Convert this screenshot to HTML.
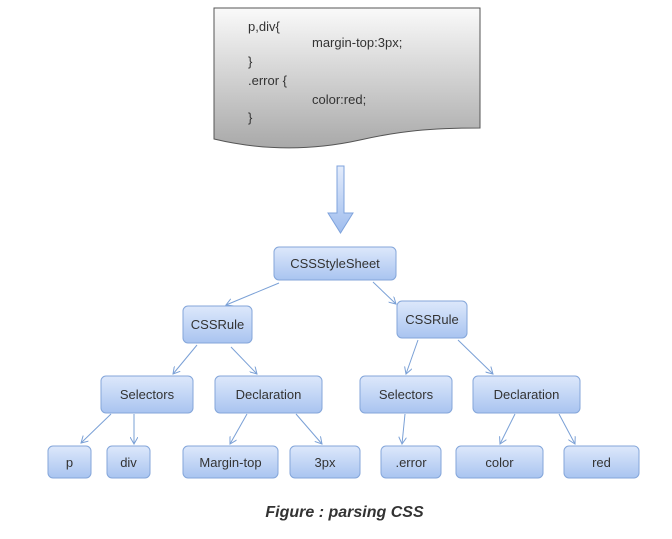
<!DOCTYPE html>
<html><head><meta charset="utf-8"><style>
html,body{margin:0;padding:0;background:#fff;}
svg{display:block;}
text{font-family:"Liberation Sans",sans-serif;}
</style></head><body>
<svg width="672" height="539" viewBox="0 0 672 539" xmlns="http://www.w3.org/2000/svg">
<defs>
<linearGradient id="doc" x1="0" y1="0" x2="0" y2="1">
<stop offset="0" stop-color="#fafafa"/><stop offset="1" stop-color="#a9a9a9"/>
</linearGradient>
<linearGradient id="box" x1="0" y1="0" x2="0" y2="1">
<stop offset="0" stop-color="#dde8fb"/><stop offset="1" stop-color="#a9c4f0"/>
</linearGradient>
<linearGradient id="arr" x1="0" y1="0" x2="0" y2="1">
<stop offset="0" stop-color="#e4ecfb"/><stop offset="1" stop-color="#9fbdee"/>
</linearGradient>
<marker id="m" markerWidth="8" markerHeight="8" refX="7" refY="4" orient="auto" markerUnits="userSpaceOnUse">
<path d="M0,0 L7,4 L0,8" fill="none" stroke="#7aa0d6" stroke-width="1"/>
</marker>
</defs>
<path d="M214,8 H480 V128 C430,128 400,131 360,140 C310,151 260,150 214,139 Z" fill="url(#doc)" stroke="#555" stroke-width="1"/>
<g font-size="13" fill="#333">
<text x="248" y="31">p,div{</text>
<text x="312" y="47">margin-top:3px;</text>
<text x="248" y="66">}</text>
<text x="248" y="85">.error {</text>
<text x="312" y="104">color:red;</text>
<text x="248" y="122">}</text>
</g>
<path d="M337,166 H344 V213 H353 L340.5,233 L328,213 H337 Z" fill="url(#arr)" stroke="#7fa3dc" stroke-width="1"/>
<g stroke="#7aa0d6" stroke-width="1" fill="none" marker-end="url(#m)">
<line x1="279" y1="283" x2="226" y2="305"/>
<line x1="373" y1="282" x2="396" y2="304"/>
<line x1="197" y1="345" x2="173" y2="374"/>
<line x1="231" y1="347" x2="257" y2="374"/>
<line x1="418" y1="340" x2="406" y2="374"/>
<line x1="458" y1="340" x2="493" y2="374"/>
<line x1="111" y1="414" x2="81" y2="443"/>
<line x1="134" y1="414" x2="134" y2="444"/>
<line x1="247" y1="414" x2="230" y2="444"/>
<line x1="296" y1="414" x2="322" y2="444"/>
<line x1="405" y1="414" x2="402" y2="444"/>
<line x1="515" y1="414" x2="500" y2="444"/>
<line x1="559" y1="414" x2="575" y2="444"/>
</g>
<g fill="url(#box)" stroke="#84a6da" stroke-width="1">
<rect x="274" y="247" width="122" height="33" rx="5"/>
<rect x="183" y="306" width="69" height="37" rx="5"/>
<rect x="397" y="301" width="70" height="37" rx="5"/>
<rect x="101" y="376" width="92" height="37" rx="5"/>
<rect x="215" y="376" width="107" height="37" rx="5"/>
<rect x="360" y="376" width="92" height="37" rx="5"/>
<rect x="473" y="376" width="107" height="37" rx="5"/>
<rect x="48" y="446" width="43" height="32" rx="5"/>
<rect x="107" y="446" width="43" height="32" rx="5"/>
<rect x="183" y="446" width="95" height="32" rx="5"/>
<rect x="290" y="446" width="70" height="32" rx="5"/>
<rect x="381" y="446" width="60" height="32" rx="5"/>
<rect x="456" y="446" width="87" height="32" rx="5"/>
<rect x="564" y="446" width="75" height="32" rx="5"/>
</g>
<g font-size="13" fill="#333" text-anchor="middle">
<text x="335" y="268">CSSStyleSheet</text>
<text x="217.5" y="329">CSSRule</text>
<text x="432" y="324">CSSRule</text>
<text x="147" y="399">Selectors</text>
<text x="268.5" y="399">Declaration</text>
<text x="406" y="399">Selectors</text>
<text x="526.5" y="399">Declaration</text>
<text x="69.5" y="467">p</text>
<text x="128.5" y="467">div</text>
<text x="230.5" y="467">Margin-top</text>
<text x="325" y="467">3px</text>
<text x="411" y="467">.error</text>
<text x="499.5" y="467">color</text>
<text x="601.5" y="467">red</text>
</g>
<text x="344.5" y="517" font-size="16" font-weight="bold" font-style="italic" fill="#333" text-anchor="middle">Figure : parsing CSS</text>
</svg>
</body></html>
